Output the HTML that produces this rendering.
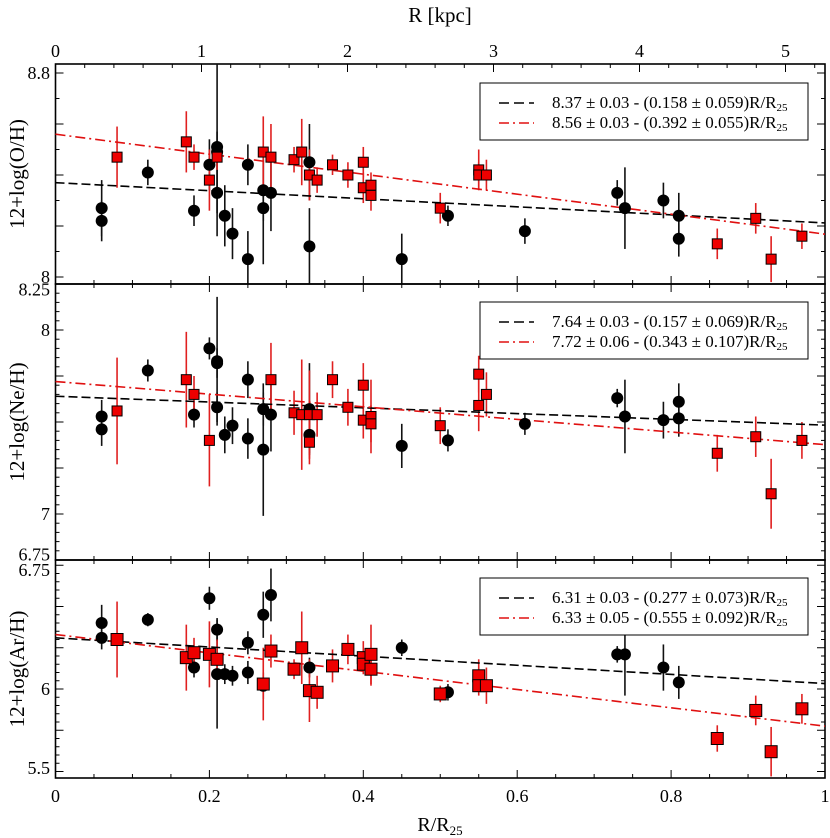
<!DOCTYPE html>
<html><head><meta charset="utf-8">
<style>
body{margin:0;background:#fff}
svg{display:block;font-family:"Liberation Serif",serif}
</style></head>
<body>
<svg id="chart" width="830" height="838" viewBox="0 0 830 838" xmlns="http://www.w3.org/2000/svg"></svg>
<script>
// ---------- data ----------
const ohBlackX=[0.06,0.06,0.12,0.18,0.2,0.21,0.21,0.21,0.22,0.23,0.25,0.25,0.27,0.27,0.28,0.33,0.33,0.45,0.51,0.61,0.73,0.74,0.79,0.81,0.81];
const ohBlackY=[8.27,8.22,8.41,8.26,8.44,8.51,8.49,8.33,8.24,8.17,8.44,8.07,8.34,8.27,8.33,8.45,8.12,8.07,8.24,8.18,8.33,8.27,8.30,8.24,8.15];
const ohBlackE=[0.11,0.08,0.05,0.06,0.1,0.35,0.08,0.08,0.12,0.1,0.08,0.11,0.12,0.22,0.15,0.15,0.15,0.1,0.04,0.05,0.05,0.16,0.07,0.09,0.07];
const ohRedX=[0.08,0.17,0.18,0.2,0.21,0.27,0.28,0.31,0.32,0.33,0.34,0.36,0.38,0.4,0.4,0.41,0.41,0.5,0.55,0.55,0.56,0.86,0.91,0.93,0.97];
const ohRedY=[8.47,8.53,8.47,8.38,8.47,8.49,8.47,8.46,8.49,8.40,8.38,8.44,8.40,8.45,8.35,8.36,8.32,8.27,8.42,8.40,8.40,8.13,8.23,8.07,8.16];
const ohRedE=[0.12,0.12,0.05,0.12,0.05,0.14,0.13,0.05,0.13,0.1,0.05,0.04,0.05,0.06,0.06,0.05,0.06,0.06,0.08,0.05,0.06,0.06,0.06,0.09,0.05];

const neBlackX=[0.06,0.06,0.12,0.18,0.2,0.21,0.21,0.21,0.22,0.23,0.25,0.25,0.27,0.27,0.28,0.33,0.33,0.45,0.51,0.61,0.73,0.74,0.79,0.81,0.81];
const neBlackY=[7.53,7.46,7.78,7.54,7.90,7.83,7.82,7.58,7.43,7.48,7.73,7.41,7.57,7.35,7.54,7.57,7.43,7.37,7.40,7.49,7.63,7.53,7.51,7.61,7.52];
const neBlackE=[0.09,0.09,0.06,0.07,0.06,0.35,0.08,0.08,0.1,0.1,0.1,0.11,0.09,0.36,0.2,0.25,0.1,0.12,0.06,0.06,0.05,0.2,0.1,0.1,0.1];
const neRedX=[0.08,0.17,0.18,0.2,0.28,0.31,0.32,0.33,0.33,0.34,0.36,0.38,0.4,0.4,0.41,0.41,0.5,0.55,0.55,0.56,0.86,0.91,0.93,0.97];
const neRedY=[7.56,7.73,7.65,7.40,7.73,7.55,7.54,7.54,7.39,7.54,7.73,7.58,7.70,7.51,7.53,7.49,7.48,7.76,7.59,7.65,7.33,7.42,7.11,7.40];
const neRedE=[0.29,0.26,0.1,0.25,0.2,0.12,0.3,0.24,0.12,0.12,0.1,0.1,0.12,0.1,0.2,0.1,0.1,0.1,0.14,0.12,0.1,0.11,0.19,0.1];

const arBlackX=[0.06,0.06,0.12,0.18,0.2,0.21,0.21,0.22,0.23,0.25,0.25,0.27,0.27,0.28,0.33,0.45,0.51,0.73,0.74,0.79,0.81];
const arBlackY=[6.40,6.31,6.42,6.13,6.55,6.36,6.09,6.09,6.08,6.28,6.10,6.02,6.45,6.57,6.13,6.25,5.98,6.21,6.21,6.13,6.04];
const arBlackE=[0.11,0.07,0.04,0.06,0.07,0.07,0.33,0.06,0.06,0.07,0.07,0.08,0.14,0.16,0.06,0.05,0.05,0.05,0.25,0.14,0.1];
const arRedX=[0.08,0.17,0.18,0.2,0.21,0.27,0.28,0.31,0.32,0.33,0.34,0.36,0.38,0.4,0.4,0.41,0.41,0.5,0.55,0.55,0.56,0.86,0.91,0.93,0.97];
const arRedY=[6.30,6.19,6.22,6.21,6.18,6.03,6.23,6.12,6.25,5.99,5.98,6.14,6.24,6.19,6.15,6.21,6.12,5.97,6.08,6.02,6.02,5.70,5.87,5.62,5.88];
const arRedE=[0.23,0.2,0.09,0.2,0.12,0.22,0.1,0.06,0.22,0.19,0.1,0.1,0.09,0.1,0.06,0.18,0.1,0.05,0.1,0.06,0.11,0.08,0.09,0.15,0.09];

const fitIntercepts=[[8.37,8.56],[7.64,7.72],[6.31,6.33]];
const fitSlopes=[[0.158,0.392],[0.157,0.343],[0.277,0.555]];
const legendTexts=[
 ["8.37 ± 0.03 - (0.158 ± 0.059)R/R","8.56 ± 0.03 - (0.392 ± 0.055)R/R"],
 ["7.64 ± 0.03 - (0.157 ± 0.069)R/R","7.72 ± 0.06 - (0.343 ± 0.107)R/R"],
 ["6.31 ± 0.03 - (0.277 ± 0.073)R/R","6.33 ± 0.05 - (0.555 ± 0.092)R/R"]];
const xTickLabels=["0","0.2","0.4","0.6","0.8","1"];
const kpcTickLabels=["0","1","2","3","4","5"];

// ---------- layout ----------
const NS="http://www.w3.org/2000/svg";
const svg=document.getElementById('chart');
const X0=55.5,X1=825;
const xs=v=>X0+v*(X1-X0);
const KPC=146;
function el(tag,attrs,parent){const e=document.createElementNS(NS,tag);for(const k in attrs)e.setAttribute(k,attrs[k]);(parent||svg).appendChild(e);return e;}

const panels=[
 {name:'oh',top:64,bottom:284,ref:8.8,refY:73,scale:255,major:0.2,minor:0.1,labels:[[8.8,8.8],[8,8]],title:'12+log(O/H)',
  bx:ohBlackX,by:ohBlackY,be:ohBlackE,rx:ohRedX,ry:ohRedY,re:ohRedE,sq:10,leg:83},
 {name:'ne',top:284,bottom:560,ref:8,refY:330,scale:184,major:0.25,minor:0.05,labels:[[8.25,8.22],[8,8],[7,7],[6.75,6.78]],title:'12+log(Ne/H)',
  bx:neBlackX,by:neBlackY,be:neBlackE,rx:neRedX,ry:neRedY,re:neRedE,sq:10,leg:302},
 {name:'ar',top:560,bottom:778,ref:6,refY:689,scale:165,major:0.25,minor:0.05,labels:[[6.75,6.72],[6,6],[5.5,5.52]],title:'12+log(Ar/H)',
  bx:arBlackX,by:arBlackY,be:arBlackE,rx:arRedX,ry:arRedY,re:arRedE,sq:12,leg:578}
];

panels.forEach((p,pi)=>{
  const ys=v=>p.refY+(p.ref-v)*p.scale;
  const vTop=p.ref+(p.refY-p.top)/p.scale, vBot=p.ref-(p.bottom-p.refY)/p.scale;
  const g=el('g',{});
  
  
  const fr=el('rect',{x:X0,y:p.top,width:X1-X0,height:p.bottom-p.top,fill:'none',stroke:'#000','stroke-width':1.6},g);
  
  
  for(let i=0;i<=20;i++){
    const x=xs(i*0.05),len=(i%4===0)?8:4;
    el('line',{x1:x,x2:x,y1:p.bottom,y2:p.bottom-len,stroke:'#000','stroke-width':1},g);
    if(pi>0) el('line',{x1:x,x2:x,y1:p.top,y2:p.top+len,stroke:'#000','stroke-width':1},g);
  }
  const start=Math.ceil((vBot-1e-6)/p.minor)*p.minor;
  for(let v=start; v<=vTop+1e-6; v+=p.minor){
    const y=ys(v);
    const isMaj=Math.abs(v/p.major-Math.round(v/p.major))<1e-3;
    const len=isMaj?8:4;
    el('line',{x1:X0,x2:X0+len,y1:y,y2:y,stroke:'#000','stroke-width':1},g);
    el('line',{x1:X1,x2:X1-len,y1:y,y2:y,stroke:'#000','stroke-width':1},g);
  }
  p.labels.forEach(l=>{
    const t=el('text',{x:50,y:ys(l[1])+6,'text-anchor':'end','font-size':18},g);
    t.textContent=String(l[0]);
    
    
  });
  const cy=(p.top+p.bottom)/2;
  const tt=el('text',{x:0,y:0,transform:`translate(24,${cy}) rotate(-90)`,'text-anchor':'middle','font-size':21},g);
  tt.textContent=p.title;
  
  
  const cid='clip'+pi;
  const cp=el('clipPath',{id:cid},g);
  el('rect',{x:X0,y:p.top,width:X1-X0,height:p.bottom-p.top},cp);
  const d=el('g',{'clip-path':`url(#${cid})`},g);
  p.bx.forEach((x,i)=>{const e=el('line',{x1:xs(x),x2:xs(x),y1:ys(p.by[i]+p.be[i]),y2:ys(p.by[i]-p.be[i]),stroke:'#111','stroke-width':1.6},d);
    });
  p.rx.forEach((x,i)=>{const e=el('line',{x1:xs(x),x2:xs(x),y1:ys(p.ry[i]+p.re[i]),y2:ys(p.ry[i]-p.re[i]),stroke:'#e02020','stroke-width':1.6},d);
    });
  const a=fitIntercepts[pi], b=fitSlopes[pi];
  const l1=el('line',{x1:xs(0),x2:xs(1),y1:ys(a[0]),y2:ys(a[0]-b[0]),stroke:'#000','stroke-width':1.6,'stroke-dasharray':'9,4'},d);
  
  const l2=el('line',{x1:xs(0),x2:xs(1),y1:ys(a[1]),y2:ys(a[1]-b[1]),stroke:'#e01010','stroke-width':1.6,'stroke-dasharray':'10,4,2,4'},d);
  
  p.bx.forEach((x,i)=>{const c=el('circle',{cx:xs(x),cy:ys(p.by[i]),r:6,fill:'#000'},d);
    });
  const s=p.sq;
  p.rx.forEach((x,i)=>{const r=el('rect',{x:xs(x)-s/2,y:ys(p.ry[i])-s/2,width:s,height:s,fill:'#ee0000',stroke:'#000','stroke-width':1},d);
    });
  const lg=el('g',{},g);
  
  
  el('rect',{x:480,y:p.leg,width:328,height:57,fill:'#fff',stroke:'#000','stroke-width':1},lg);
  [0,1].forEach(k=>{
    const yy=p.leg+20+k*20;
    el('line',{x1:499,x2:534,y1:yy,y2:yy,stroke:k?'#e01010':'#000','stroke-width':1.6,'stroke-dasharray':k?'10,4,2,4':'10,5'},lg);
    const t=el('text',{x:552,y:yy+5,'font-size':17},lg);
    t.textContent=legendTexts[pi][k];
    const sub=el('tspan',{'font-size':11,dy:3},t); sub.textContent='25';
    
    
  });
});

xTickLabels.forEach((l,i)=>{const t=el('text',{x:xs(i*0.2),y:802,'text-anchor':'middle','font-size':18});t.textContent=l;
  });
const xt=el('text',{x:440,y:831,'text-anchor':'middle','font-size':20});xt.textContent='R/R';
const xs2=el('tspan',{'font-size':13,dy:4},xt);xs2.textContent='25';


for(let i=0;i<=26;i++){const x=X0+i*0.2*KPC;if(x>X1)break;const len=(i%5===0)?8:4;el('line',{x1:x,x2:x,y1:64,y2:64+len,stroke:'#000','stroke-width':1});}
kpcTickLabels.forEach((l,i)=>{const t=el('text',{x:X0+i*KPC,y:57,'text-anchor':'middle','font-size':18});t.textContent=l;
  });
const tt=el('text',{x:440,y:22,'text-anchor':'middle','font-size':21});tt.textContent='R [kpc]';

</script>
</body></html>
